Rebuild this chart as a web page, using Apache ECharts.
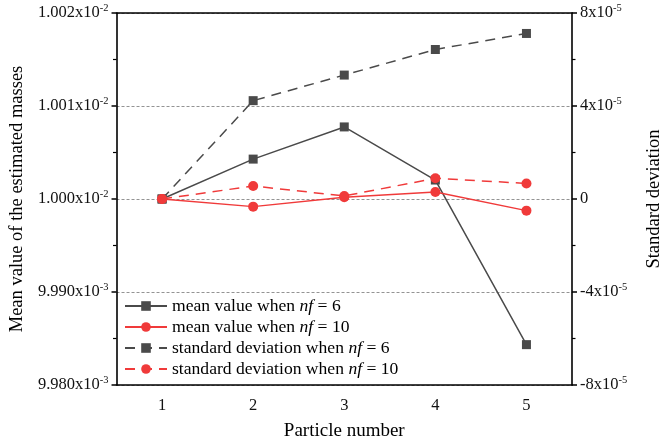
<!DOCTYPE html>
<html>
<head>
<meta charset="utf-8">
<script src="https://cdn.jsdelivr.net/npm/echarts@6/dist/echarts.min.js"></script>
<style>html,body{margin:0;padding:0;background:#fff}#c{width:672px;height:446px}</style>
</head>
<body>
<div id="c"></div>
<script>
// ---- data ----
const categories = ['1', '2', '3', '4', '5'];
const meanNf6 = [1.0000e-2, 1.000429e-2, 1.000775e-2, 1.000204e-2, 0.998434e-2];
const meanNf10 = [1.0000e-2, 0.999918e-2, 1.000018e-2, 1.000075e-2, 0.999875e-2];
const stdNf6 = [0, 4.23e-5, 5.33e-5, 6.43e-5, 7.12e-5];
const stdNf10 = [0, 0.56e-5, 0.13e-5, 0.89e-5, 0.67e-5];
const leftTickMant = ['9.980x10', '9.990x10', '1.000x10', '1.001x10', '1.002x10'];
const leftTickExp = ['-3', '-3', '-2', '-2', '-2'];
const rightTickMant = ['-8x10', '-4x10', '0', '4x10', '8x10'];
const rightTickExp = ['-5', '-5', '', '-5', '-5'];
const seriesNames = ['mean value when nf = 6', 'mean value when nf = 10', 'standard deviation when nf = 6', 'standard deviation when nf = 10'];

const GRAY = '#4a4a4a', RED = '#f03a3a';
const FONT = '"Liberation Serif", "DejaVu Serif", serif';
const LMIN = 0.00998, LINT = 0.00001, RMIN = -8e-5, RINT = 4e-5;

const supRich = {
  m: { fontFamily: FONT, fontSize: 16.5, color: '#111' },
  e: { fontFamily: FONT, fontSize: 10.5, color: '#111', verticalAlign: 'top', padding: [0, 0, 9, 0] }
};
function fmt(mant, exp) { return exp ? '{m|' + mant + '}{e|' + exp + '}' : '{m|' + mant + '}'; }

const chart = echarts.init(document.getElementById('c'));
const axisLineStyle = { color: '#000', width: 1.6 };
chart.setOption({
  animation: false,
  grid: { left: 116, right: 93, top: 13, bottom: 60 },
  legend: {
    orient: 'vertical', left: 124, top: 297, padding: 0,
    itemWidth: 42, itemHeight: 12, itemGap: 3,
    data: seriesNames,
    textStyle: { fontFamily: FONT, fontSize: 17.6, color: '#000', rich: { i: { fontFamily: FONT, fontSize: 17.6, fontStyle: 'italic', color: '#000' } } },
    formatter: function (n) { return n.replace('nf', '{i|nf}'); }
  },
  xAxis: [
    { type: 'category', data: categories, position: 'bottom', boundaryGap: true,
      axisLine: { onZero: false, lineStyle: axisLineStyle }, axisTick: { alignWithLabel: true, length: 5, lineStyle: { color: '#000', width: 1.5 } },
      axisLabel: { fontFamily: FONT, fontSize: 16.5, color: '#111', margin: 12 },
      name: 'Particle number', nameLocation: 'middle', nameGap: 37,
      nameTextStyle: { fontFamily: FONT, fontSize: 19, color: '#000' }, splitLine: { show: false } },
    { type: 'category', data: categories, position: 'bottom', boundaryGap: true,
      axisLine: { show: false, onZero: false }, axisTick: { alignWithLabel: false, length: 3.5, lineStyle: { color: '#000', width: 1.2 } },
      axisLabel: { show: false }, splitLine: { show: false } },
    { type: 'category', data: categories, position: 'top', boundaryGap: true,
      axisLine: { onZero: false, lineStyle: axisLineStyle }, axisTick: { alignWithLabel: true, inside: true, length: 5, lineStyle: { color: '#000', width: 1.5 } },
      axisLabel: { show: false }, splitLine: { show: false } }
  ],
  yAxis: [
    { type: 'value', min: LMIN, max: 0.01002, interval: LINT, position: 'left',
      axisLine: { show: true, onZero: false, lineStyle: axisLineStyle },
      axisTick: { show: true, length: 5, lineStyle: { color: '#000', width: 1.5 } },
      minorTick: { show: true, splitNumber: 2, length: 3.5, lineStyle: { color: '#000', width: 1.2 } },
      splitLine: { show: true, lineStyle: { color: '#777', type: [3, 2], width: 0.8 } },
      axisLabel: { margin: 8, rich: supRich, formatter: function (v) { const i = Math.round((v - LMIN) / LINT); return fmt(leftTickMant[i], leftTickExp[i]); } },
      name: 'Mean value of the estimated masses', nameLocation: 'middle', nameGap: 81, nameRotate: 90,
      nameTextStyle: { fontFamily: FONT, fontSize: 18.5, color: '#000' } },
    { type: 'value', min: RMIN, max: 8e-5, interval: RINT, position: 'right',
      axisLine: { show: true, onZero: false, lineStyle: axisLineStyle },
      axisTick: { show: true, length: 5, lineStyle: { color: '#000', width: 1.5 } },
      minorTick: { show: true, splitNumber: 2, length: 3.5, lineStyle: { color: '#000', width: 1.2 } },
      splitLine: { show: false },
      axisLabel: { margin: 8, rich: supRich, formatter: function (v) { const i = Math.round((v - RMIN) / RINT); return fmt(rightTickMant[i], rightTickExp[i]); } },
      name: 'Standard deviation', nameLocation: 'middle', nameGap: 73, nameRotate: 90,
      nameTextStyle: { fontFamily: FONT, fontSize: 18.5, color: '#000' } }
  ],
  series: [
    { name: seriesNames[0], type: 'line', xAxisIndex: 0, yAxisIndex: 0, data: meanNf6,
      symbol: 'rect', symbolSize: 9, lineStyle: { color: GRAY, width: 1.5 }, itemStyle: { color: GRAY }, z: 3 },
    { name: seriesNames[1], type: 'line', xAxisIndex: 0, yAxisIndex: 0, data: meanNf10,
      symbol: 'circle', symbolSize: 10, lineStyle: { color: RED, width: 1.5 }, itemStyle: { color: RED }, z: 4 },
    { name: seriesNames[2], type: 'line', xAxisIndex: 0, yAxisIndex: 1, data: stdNf6,
      symbol: 'rect', symbolSize: 9, lineStyle: { color: GRAY, width: 1.5, type: [10, 7] }, itemStyle: { color: GRAY }, z: 3 },
    { name: seriesNames[3], type: 'line', xAxisIndex: 0, yAxisIndex: 1, data: stdNf10,
      symbol: 'circle', symbolSize: 10, lineStyle: { color: RED, width: 1.5, type: [10, 7] }, itemStyle: { color: RED }, z: 4 }
  ]
});
</script>
</body>
</html>
